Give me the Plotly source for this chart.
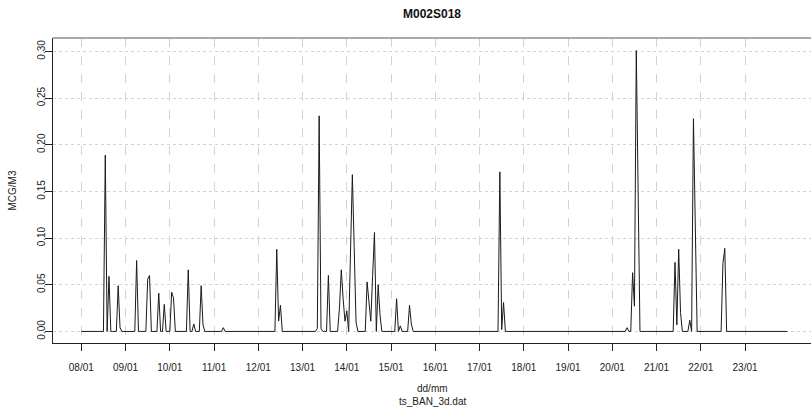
import plotly.graph_objects as go
from datetime import datetime, timedelta

# ---- data (hourly series, 08/01 00:00 -> 23/01 23:00) ----
start_time = datetime(2014, 1, 8, 0, 0)
n_hours = 384
# hours (offset from start) with non-zero concentration, and their values (MCG/M3)
peak_hours = [13, 15, 20, 21, 30, 36, 37, 42, 45, 49, 50, 58, 61, 65, 66, 77,
              106, 107, 108, 128, 129, 130, 134, 140, 141, 142, 143, 144, 146,
              147, 148, 149, 155, 156, 157, 158, 159, 161, 162, 171, 173, 178,
              179, 227, 228, 229, 296, 299, 300, 301, 302, 322, 323, 324, 325,
              330, 332, 333, 348, 349]
peak_values = [0.189, 0.059, 0.049, 0.004, 0.076, 0.056, 0.060, 0.041, 0.029,
               0.042, 0.036, 0.066, 0.008, 0.049, 0.007, 0.004,
               0.088, 0.011, 0.028, 0.003, 0.231, 0.003, 0.060, 0.025, 0.066,
               0.035, 0.011, 0.022, 0.085, 0.168, 0.090, 0.010, 0.053, 0.030,
               0.011, 0.060, 0.106, 0.050, 0.018, 0.035, 0.006, 0.028,
               0.008, 0.171, 0.002, 0.031, 0.004, 0.063, 0.027, 0.301, 0.150,
               0.074, 0.007, 0.088, 0.020, 0.012, 0.228, 0.114, 0.073, 0.089]
tick_labels = ["08/01", "09/01", "10/01", "11/01", "12/01", "13/01", "14/01",
               "15/01", "16/01", "17/01", "18/01", "19/01", "20/01", "21/01",
               "22/01", "23/01"]
y_ticks = [0.00, 0.05, 0.10, 0.15, 0.20, 0.25, 0.30]

times = [start_time + timedelta(hours=h) for h in range(n_hours)]
readings = dict(zip(peak_hours, peak_values))
values = [readings.get(h, 0.0) for h in range(n_hours)]
tick_vals = [start_time + timedelta(days=i) for i in range(len(tick_labels))]

FONT = "Liberation Sans, Arial, sans-serif"

fig = go.Figure()
fig.add_trace(go.Scatter(x=times, y=values, mode="lines",
                         line=dict(color="#1a1a1a", width=1),
                         hoverinfo="skip", showlegend=False))

fig.update_layout(
    width=811, height=409,
    margin=dict(l=53, r=0, t=38, b=66),
    paper_bgcolor="white", plot_bgcolor="white",
    font=dict(family=FONT, color="#222", size=10),
    title=dict(text="<b>M002S018</b>", x=0.5, xref="paper", xanchor="center",
               y=1 - 14 / 409, yref="container", yanchor="middle",
               font=dict(family=FONT, size=12, color="#111")),
    xaxis=dict(
        type="date",
        range=[start_time - timedelta(days=0.64), start_time + timedelta(days=16.49)],
        tickmode="array", tickvals=tick_vals, ticktext=tick_labels,
        ticks="outside", ticklen=7, tickcolor="#222", tickwidth=1,
        showline=True, linecolor="#222", linewidth=1, mirror=False,
        showgrid=True, gridcolor="#d3d3d3", gridwidth=1, griddash="dash",
        zeroline=False, ticklabelstandoff=8,
        tickfont=dict(size=10, family=FONT, color="#222"),
    ),
    yaxis=dict(
        range=[-0.0124, 0.3144],
        tickmode="array", tickvals=y_ticks,
        ticktext=[f"{v:.2f}" for v in y_ticks],
        tickangle=-90,
        ticks="outside", ticklen=7, tickcolor="#222", tickwidth=1,
        showline=True, linecolor="#222", linewidth=1, mirror=False,
        showgrid=True, gridcolor="#d3d3d3", gridwidth=1, griddash="dot",
        zeroline=False, ticklabelstandoff=-4,
        tickfont=dict(size=10, family=FONT, color="#222"),
    ),
    shapes=[dict(type="line", xref="paper", yref="paper", x0=0, x1=1, y0=1, y1=1,
                 line=dict(color="#8c8c8c", width=1.5))],
    annotations=[
        dict(text="dd/mm", xref="paper", yref="paper", x=0.5, y=(343 - 388) / 305,
             xanchor="center", yanchor="middle", showarrow=False,
             font=dict(family=FONT, size=10, color="#222")),
        dict(text="ts_BAN_3d.dat", xref="paper", yref="paper", x=0.5, y=(343 - 401) / 305,
             xanchor="center", yanchor="middle", showarrow=False,
             font=dict(family=FONT, size=10, color="#222")),
        dict(text="MCG/M3", xref="paper", yref="paper", x=(12 - 53) / 758, y=0.5,
             xanchor="center", yanchor="middle", textangle=-90, showarrow=False,
             font=dict(family=FONT, size=10, color="#222")),
    ],
)

# remove the default 8px body margin so the figure fills the window exactly
fig.write_html("out.html",
               config={"displayModeBar": False, "staticPlot": True},
               post_script="document.body.style.margin='0px';"
                           "document.body.style.overflow='hidden';")
